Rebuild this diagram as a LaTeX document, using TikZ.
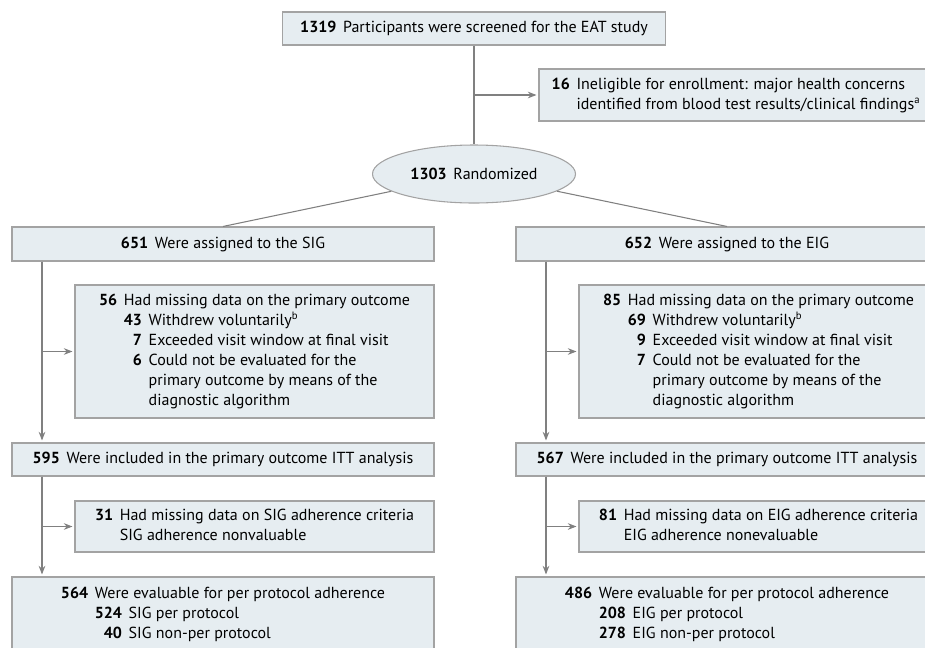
\documentclass[tikz,border=0pt]{standalone}
\usepackage{fontspec}
\setmainfont{PT Sans}
\usetikzlibrary{positioning,arrows.meta,shapes.geometric}
\definecolor{boxfill}{HTML}{E6EDF1}
\definecolor{boxline}{HTML}{A3A3A3}
\definecolor{linkgray}{HTML}{808080}

\begin{document}
\begin{tikzpicture}[x=0.75pt, y=-0.75pt,
  box/.style={draw=boxline, fill=boxfill, line width=0.8pt, inner sep=0pt,
    align=center, font=\fontsize{12}{15}\selectfont},
  arr/.style={-{Stealth[length=6.5pt,width=5pt]}, draw=linkgray, fill=linkgray,
    line width=0.8pt, shorten >=1.5pt},
  lnk/.style={draw=linkgray, line width=0.8pt}
]
  \useasboundingbox (0,0) rectangle (925,647);
  \clip (0,0) rectangle (925,647);

  % screening and randomization
  \node[box, minimum width=287.25pt, minimum height=24.75pt] (screen) at (474,28.5)
    {\textbf{1319}\hspace{5pt}Participants were screened for the EAT study};
  \node[box, minimum width=295.5pt, minimum height=39pt] (inelig) at (736,95)
    {\begin{tabular}{@{}r@{\hspace{5pt}}l@{}}
      \textbf{16} & Ineligible for enrollment: major health concerns\\
      & identified from blood test results/clinical findings\textsuperscript{a}
    \end{tabular}};
  \node[box, ellipse, minimum width=152.25pt, minimum height=43.5pt] (rand) at (474,174)
    {\textbf{1303}\hspace{5pt}Randomized};

  % SIG arm
  \node[box, minimum width=316.5pt, minimum height=25.5pt] (sig) at (223,244)
    {\textbf{651}\hspace{5pt}Were assigned to the SIG};
  \node[box, minimum width=269.25pt, minimum height=99.75pt] (missA) at (254.5,351.5)
    {\begin{tabular}{@{}r@{\hspace{5pt}}r@{\hspace{5pt}}l@{}}
      \textbf{56} & \multicolumn{2}{@{}l@{}}{Had missing data on the primary outcome}\\
      & \textbf{43} & Withdrew voluntarily\textsuperscript{b}\\
      & \textbf{7} & Exceeded visit window at final visit\\
      & \textbf{6} & Could not be evaluated for the\\
      & & primary outcome by means of the\\
      & & diagnostic algorithm
    \end{tabular}};
  \node[box, minimum width=316.5pt, minimum height=24.75pt] (ittA) at (223,459.5)
    {\textbf{595}\hspace{5pt}Were included in the primary outcome ITT analysis};
  \node[box, minimum width=269.25pt, minimum height=38.25pt] (adhA) at (254.5,526.5)
    {\begin{tabular}{@{}r@{\hspace{5pt}}l@{}}
      \textbf{31} & Had missing data on SIG adherence criteria\\
      & SIG adherence nonvaluable
    \end{tabular}};
  \node[box, minimum width=316.5pt, minimum height=55.5pt] (ppA) at (223,614)
    {\begin{tabular}{@{}r@{\hspace{5pt}}r@{\hspace{5pt}}l@{}}
      \textbf{564} & \multicolumn{2}{@{}l@{}}{Were evaluable for per protocol adherence}\\
      & \textbf{524} & SIG per protocol\\
      & \textbf{40} & SIG non-per protocol
    \end{tabular}};

  % EIG arm
  \node[box, minimum width=316.5pt, minimum height=25.5pt] (eig) at (727,244)
    {\textbf{652}\hspace{5pt}Were assigned to the EIG};
  \node[box, minimum width=269.25pt, minimum height=99.75pt] (missB) at (758.5,351.5)
    {\begin{tabular}{@{}r@{\hspace{5pt}}r@{\hspace{5pt}}l@{}}
      \textbf{85} & \multicolumn{2}{@{}l@{}}{Had missing data on the primary outcome}\\
      & \textbf{69} & Withdrew voluntarily\textsuperscript{b}\\
      & \textbf{9} & Exceeded visit window at final visit\\
      & \textbf{7} & Could not be evaluated for the\\
      & & primary outcome by means of the\\
      & & diagnostic algorithm
    \end{tabular}};
  \node[box, minimum width=316.5pt, minimum height=24.75pt] (ittB) at (727,459.5)
    {\textbf{567}\hspace{5pt}Were included in the primary outcome ITT analysis};
  \node[box, minimum width=269.25pt, minimum height=38.25pt] (adhB) at (758.5,526.5)
    {\begin{tabular}{@{}r@{\hspace{5pt}}l@{}}
      \textbf{81} & Had missing data on EIG adherence criteria\\
      & EIG adherence nonevaluable
    \end{tabular}};
  \node[box, minimum width=316.5pt, minimum height=55.5pt] (ppB) at (727,614)
    {\begin{tabular}{@{}r@{\hspace{5pt}}r@{\hspace{5pt}}l@{}}
      \textbf{486} & \multicolumn{2}{@{}l@{}}{Were evaluable for per protocol adherence}\\
      & \textbf{208} & EIG per protocol\\
      & \textbf{278} & EIG non-per protocol
    \end{tabular}};

  % connectors
  \coordinate (fork) at (474,95);
  \coordinate (trunkA) at (42,0);
  \coordinate (trunkB) at (546,0);
  \draw[lnk] (screen) -- (rand);
  \draw[arr] (fork) -- (inelig.west);
  \draw[lnk] (rand) -- (sig.north);
  \draw[lnk] (rand) -- (eig.north);

  \draw[arr] (sig.south -| trunkA) -- (ittA.north -| trunkA);
  \draw[arr] (missA.west -| trunkA) -- (missA.west);
  \draw[arr] (ittA.south -| trunkA) -- (ppA.north -| trunkA);
  \draw[arr] (adhA.west -| trunkA) -- (adhA.west);

  \draw[arr] (eig.south -| trunkB) -- (ittB.north -| trunkB);
  \draw[arr] (missB.west -| trunkB) -- (missB.west);
  \draw[arr] (ittB.south -| trunkB) -- (ppB.north -| trunkB);
  \draw[arr] (adhB.west -| trunkB) -- (adhB.west);
\end{tikzpicture}
\end{document}
